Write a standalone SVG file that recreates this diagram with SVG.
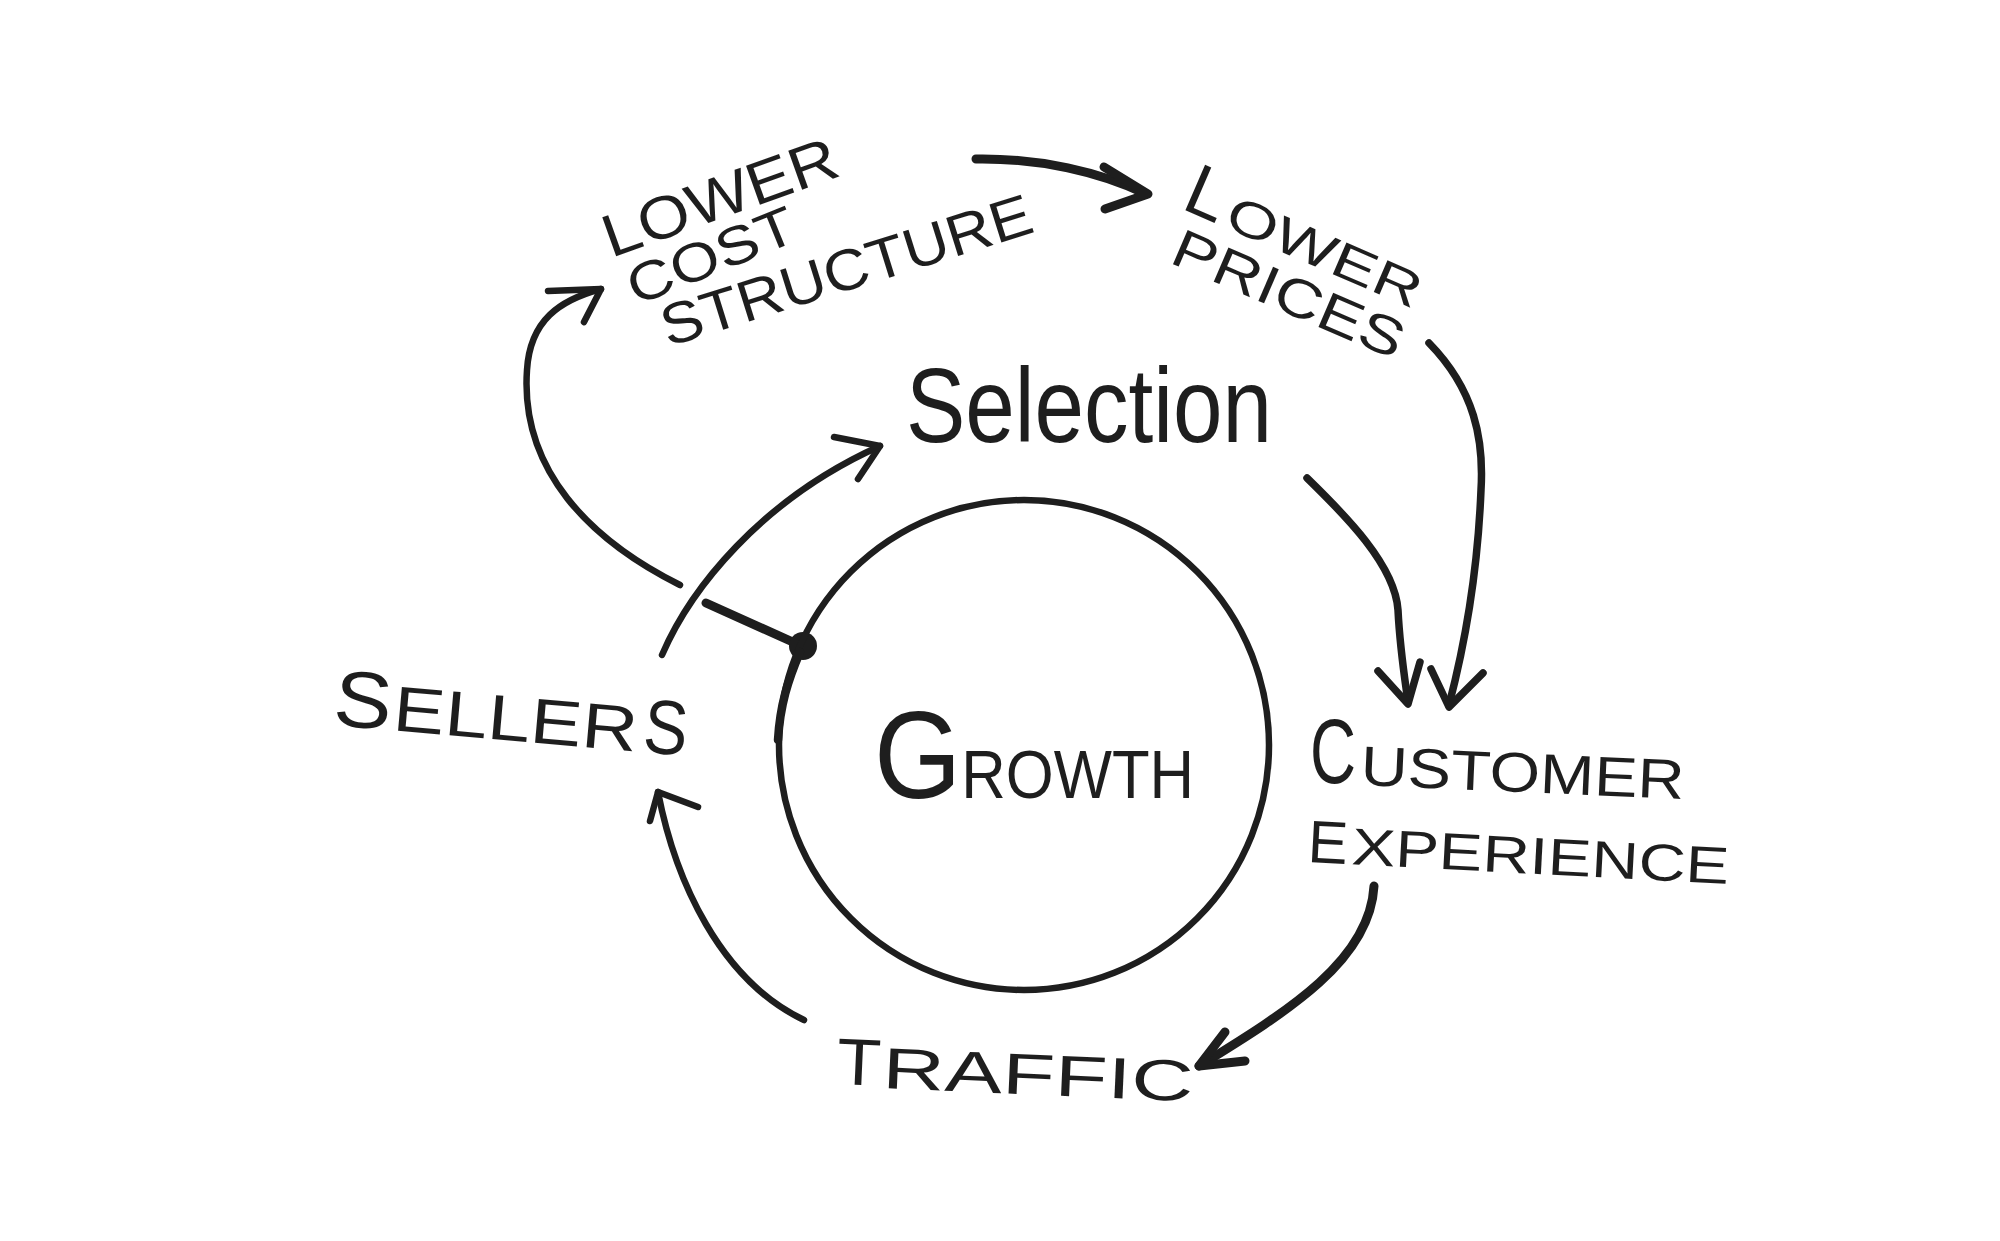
<svg xmlns="http://www.w3.org/2000/svg" width="2000" height="1241" viewBox="0 0 2000 1241">
<style>
.ln{fill:none;stroke:#1e1e1e;stroke-width:6.5;stroke-linecap:round;stroke-linejoin:round}
.hv{stroke-width:9}
.md{stroke-width:7.5}
.t{font-family:"Liberation Sans",Arial,sans-serif;fill:#1e1e1e}
</style>
<rect width="2000" height="1241" fill="#ffffff"/>
<g id="connectors">
  <!-- Sellers -> Selection -->
  <path class="ln" d="M662,655 C690,590 760,500 880,446"/>
  <path class="ln" d="M834,437 L880,446 L858,479"/>
  <!-- junction -> Lower cost structure -->
  <path class="ln" d="M680,585 C590,540 520,470 527,370 C530,320 560,300 601,289"/>
  <path class="ln" d="M548,291 L601,289 L584,322"/>
  <!-- stub to growth dot -->
  <path class="ln hv" d="M706,603 L795,643"/>
  <circle cx="803" cy="646" r="14" fill="#1e1e1e"/>
  <!-- Lower cost structure -> Lower prices -->
  <path class="ln hv" d="M976,159 C1040,158 1100,172 1146,194"/>
  <path class="ln hv" d="M1104,167 L1148,194 L1105,209"/>
  <!-- Lower prices -> Customer experience -->
  <path class="ln md" d="M1429,343 C1475,390 1484,440 1481,490 C1478,565 1466,640 1449,705"/>
  <path class="ln md" d="M1431,669 L1449,707 L1483,673"/>
  <!-- Selection -> Customer experience -->
  <path class="ln md" d="M1307,478 C1345,515 1395,565 1398,610 C1400,650 1405,680 1408,702"/>
  <path class="ln md" d="M1378,671 L1408,704 L1420,662"/>
  <!-- Customer experience -> Traffic -->
  <path class="ln hv" d="M1374,886 C1370,960 1290,1010 1199,1066"/>
  <path class="ln hv" d="M1225,1032 L1199,1066 L1245,1061"/>
  <!-- Traffic -> Sellers -->
  <path class="ln" d="M804,1020 C720,980 675,880 658,792"/>
  <path class="ln" d="M650,821 L658,792 L698,807"/>
</g>
<g id="growth">
  <circle class="ln" cx="1024" cy="745" r="245"/>
  <path class="ln" style="stroke-width:8.5" d="M800,652 C788,680 780,705 778,740"/>
  <text class="t" x="874" y="798" textLength="320" lengthAdjust="spacingAndGlyphs"><tspan font-size="124">G</tspan><tspan font-size="68">ROWTH</tspan></text>
</g>
<g id="selection">
  <text class="t" x="906" y="442" font-size="105" textLength="366" lengthAdjust="spacingAndGlyphs">Selection</text>
</g>
<g id="sellers" transform="translate(332,725) rotate(5)">
  <text class="t" x="0" y="0" font-size="80" textLength="58" lengthAdjust="spacingAndGlyphs">S</text>
  <text class="t" x="60" y="0" font-size="64" textLength="245" lengthAdjust="spacingAndGlyphs">ELLER</text>
  <text class="t" x="311" y="0" font-size="77" textLength="44" lengthAdjust="spacingAndGlyphs">S</text>
</g>
<g id="customer-experience">
  <text class="t" x="1310" y="783" font-size="90" textLength="46" lengthAdjust="spacingAndGlyphs">C</text>
  <text class="t" transform="translate(1360,785) rotate(2.5)" x="0" y="0" font-size="56" textLength="324" lengthAdjust="spacingAndGlyphs">USTOMER</text>
  <g transform="translate(1307,862) rotate(3)">
    <text class="t" x="0" y="0" font-size="60" textLength="40" lengthAdjust="spacingAndGlyphs">E</text>
    <text class="t" x="44" y="0" font-size="52" textLength="378" lengthAdjust="spacingAndGlyphs">XPERIENCE</text>
  </g>
</g>
<g id="traffic" transform="translate(836,1084) rotate(2.5)">
  <text class="t" x="0" y="0" font-size="66" textLength="44" lengthAdjust="spacingAndGlyphs">T</text>
  <text class="t" x="46" y="2" font-size="58" textLength="311" lengthAdjust="spacingAndGlyphs">RAFFIC</text>
</g>
<g id="lower-cost-structure">
  <text class="t" transform="translate(611,258) rotate(-19.7)" x="0" y="0" font-size="60" textLength="246" lengthAdjust="spacingAndGlyphs">LOWER</text>
  <text class="t" transform="translate(636,306) rotate(-22)" x="0" y="0" font-size="54" textLength="177" lengthAdjust="spacingAndGlyphs">COST</text>
  <text class="t" transform="translate(668,347) rotate(-17.4)" x="0" y="0" font-size="58" textLength="386" lengthAdjust="spacingAndGlyphs">STRUCTURE</text>
</g>
<g id="lower-prices">
  <g transform="translate(1180,208) rotate(23.4)">
    <text class="t" x="0" y="0" font-size="72" textLength="40" lengthAdjust="spacingAndGlyphs">L</text>
    <text class="t" x="46" y="0" font-size="50" textLength="208" lengthAdjust="spacingAndGlyphs">OWER</text>
  </g>
  <text class="t" transform="translate(1168,262) rotate(23.3)" x="0" y="0" font-size="54" textLength="247" lengthAdjust="spacingAndGlyphs">PRICES</text>
</g>
</svg>
